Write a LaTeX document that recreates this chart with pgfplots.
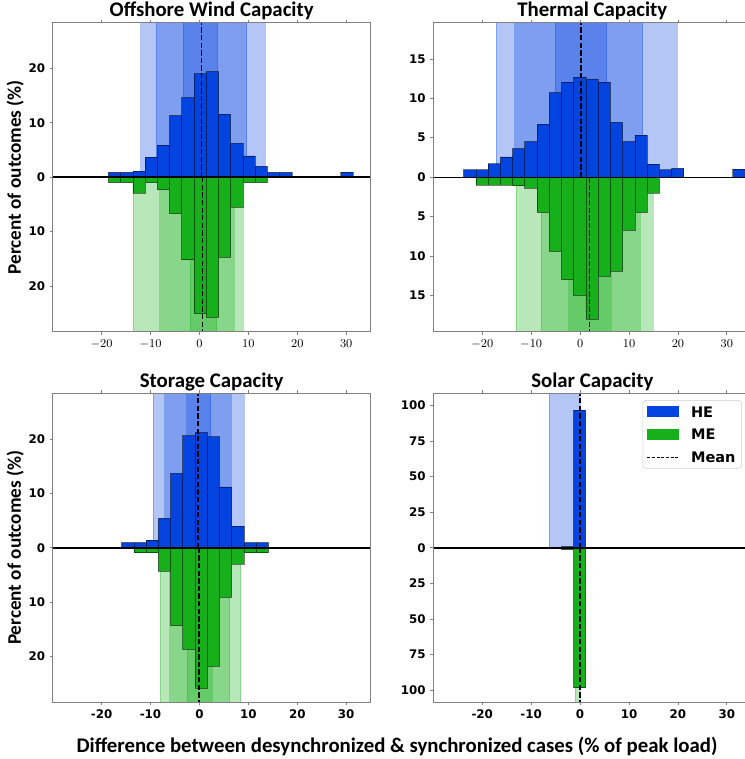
\documentclass[border=0pt]{standalone}
\usepackage{pgfplots}
\pgfplotsset{compat=1.18}
\usepackage{fontspec}
\setmainfont{Carlito}
\newfontfamily\dejavu{DejaVu Sans}
\definecolor{heblue}{HTML}{0343DF}
\definecolor{megreen}{HTML}{15B01A}
\definecolor{axgray}{HTML}{808080}
\definecolor{leggray}{HTML}{CCCCCC}
\newcommand\tickfont{\dejavu\bfseries\fontsize{8.9}{10}\selectfont}
\newcommand\titlefont{\bfseries\fontsize{15.6}{18}\selectfont}
\newcommand\xlabfont{\bfseries\fontsize{15.6}{18}\selectfont}
\newcommand\ylabfont{\bfseries\fontsize{14.4}{17}\selectfont}
\newcommand\legfont{\dejavu\bfseries\fontsize{10.9}{13}\selectfont}
\pgfplotsset{
  panel/.style={
    scale only axis, width=238.5pt, height=231.75pt,
    xmin=-30, xmax=35,
    axis on top,
    axis line style={draw=axgray, line width=0.6pt},
    tick style={draw=axgray, line width=0.6pt},
    tick align=outside, major tick length=2.2pt,
    xtick={-20,-10,0,10,20,30},
    ytick pos=left,
    ticklabel style={font=\tickfont, text=black},
    title style={font=\titlefont, anchor=base, at={(0.5,1)}, yshift=-1.5pt},
    ylabel style={font=\ylabfont, at={(axis description cs:-0.118,0.50)}, anchor=center},
    anchor=north west,
  },
  hebar/.style={ybar interval, fill=heblue, draw=black, draw opacity=0.5, line width=0.55pt, forget plot},
  mebar/.style={ybar interval, fill=megreen, draw=black, draw opacity=0.5, line width=0.55pt, forget plot},
  heband/.style={ybar interval, fill=heblue, fill opacity=0.3, draw=heblue, draw opacity=0.3, line width=0.6pt, forget plot},
  meband/.style={ybar interval, fill=megreen, fill opacity=0.3, draw=megreen, draw opacity=0.3, line width=0.6pt, forget plot},
  zeroline/.style={black, line width=1.0pt, forget plot},
  meanline/.style={black, line width=1.1pt, dash pattern=on 4pt off 1.7pt, forget plot},
}
\begin{document}
\begin{tikzpicture}
\useasboundingbox (0,0) rectangle (558pt,-569.25pt);
% ---------------- Offshore Wind
\begin{axis}[panel, at={(39.5pt,-17pt)}, ymin=-28.4, ymax=28.4,
  ytick={-20,-10,0,10,20}, yticklabels={20,10,0,10,20}, xticklabel={},
  title={Offshore Wind Capacity}, ylabel={Percent of outcomes (\%)}]
\addplot[heband] coordinates {(-12.0,30) (13.4,30)};
\addplot[heband] coordinates {(-8.8,30) (9.7,30)};
\addplot[heband] coordinates {(-3.3,30) (3.7,30)};
\addplot[meband] coordinates {(-13.5,-30) (9.0,-30)};
\addplot[meband] coordinates {(-8.1,-30) (7.1,-30)};
\addplot[meband] coordinates {(-1.9,-30) (3.5,-30)};
\addplot[hebar] coordinates {(-18.6,0.9) (-16.1,0.9) (-13.6,1.1) (-11.1,3.7) (-8.6,5.9) (-6.1,11.3) (-3.6,14.6) (-1.1,19.0) (1.4,19.4) (3.9,11.6) (6.4,6.2) (8.9,3.9) (11.4,2.0) (13.9,0.9) (16.4,0.9) (18.9,0.9)};
\addplot[hebar] coordinates {(28.9,0.9) (31.4,0.9)};
\addplot[mebar] coordinates {(-18.6,-1.0) (-16.1,-1.0) (-13.6,-2.9) (-11.1,-1.0) (-8.6,-2.3) (-6.1,-6.7) (-3.6,-15.2) (-1.1,-25.1) (1.4,-25.7) (3.9,-14.7) (6.4,-5.5) (8.9,-1.0) (11.4,-1.0) (13.9,-1.0)};
\addplot[zeroline] coordinates {(-30,0) (35,0)};
\addplot[meanline] coordinates {(0.4,0) (0.4,30)};
\addplot[meanline] coordinates {(0.6,0) (0.6,-30)};
\end{axis}
% ---------------- Thermal
\begin{axis}[panel, at={(325pt,-17pt)}, ymin=-19.6, ymax=19.6,
  ytick={-15,-10,-5,0,5,10,15}, yticklabels={15,10,5,0,5,10,15}, xticklabel={},
  title={Thermal Capacity}]
\addplot[heband] coordinates {(-17.2,21) (19.8,21)};
\addplot[heband] coordinates {(-13.4,21) (12.8,21)};
\addplot[heband] coordinates {(-5.1,21) (5.4,21)};
\addplot[meband] coordinates {(-13.1,-21) (14.9,-21)};
\addplot[meband] coordinates {(-7.9,-21) (12.3,-21)};
\addplot[meband] coordinates {(-2.3,-21) (6.3,-21)};
\addplot[hebar] coordinates {(-23.8,0.94) (-21.3,0.94) (-18.8,1.7) (-16.3,2.56) (-13.8,3.62) (-11.3,4.52) (-8.8,6.73) (-6.3,10.74) (-3.8,12.06) (-1.3,12.7) (1.2,12.4) (3.7,12.06) (6.2,6.95) (8.7,4.52) (11.2,5.33) (13.7,1.66) (16.2,0.94) (18.7,1.1) (21.2,1.1)};
\addplot[hebar] coordinates {(31.2,0.98) (33.7,0.98)};
\addplot[mebar] coordinates {(-21.3,-0.98) (-18.8,-0.98) (-16.3,-0.98) (-13.8,-1.1) (-11.3,-1.36) (-8.8,-4.47) (-6.3,-9.42) (-3.8,-13.0) (-1.3,-14.96) (1.2,-17.98) (3.7,-12.53) (6.2,-11.93) (8.7,-6.73) (11.2,-4.47) (13.7,-2.0) (16.2,-2.0)};
\addplot[zeroline] coordinates {(-30,0) (35,0)};
\addplot[meanline] coordinates {(0.2,0) (0.2,21)};
\addplot[meanline] coordinates {(1.9,0) (1.9,-21)};
\end{axis}
% ---------------- Storage
\begin{axis}[panel, at={(39.5pt,-295pt)}, ymin=-28.4, ymax=28.4,
  ytick={-20,-10,0,10,20}, yticklabels={20,10,0,10,20},
  xticklabels={-20,-10,0,10,20,30},
  title={Storage Capacity}, ylabel={Percent of outcomes (\%)}]
\addplot[heband] coordinates {(-9.4,30) (9.1,30)};
\addplot[heband] coordinates {(-7.1,30) (6.5,30)};
\addplot[heband] coordinates {(-2.6,30) (2.3,30)};
\addplot[meband] coordinates {(-8.0,-30) (8.4,-30)};
\addplot[meband] coordinates {(-6.1,-30) (6.2,-30)};
\addplot[meband] coordinates {(-2.45,-30) (2.6,-30)};
\addplot[hebar] coordinates {(-15.9,0.98) (-13.4,0.98) (-10.9,1.4) (-8.4,5.4) (-5.9,13.7) (-3.4,20.6) (-0.9,21.2) (1.6,20.4) (4.1,11.2) (6.6,4.0) (9.1,0.98) (11.6,0.98) (14.1,0.98)};
\addplot[mebar] coordinates {(-13.4,-0.92) (-10.9,-0.92) (-8.4,-4.3) (-5.9,-14.3) (-3.4,-18.6) (-0.9,-25.8) (1.6,-21.7) (4.1,-9.05) (6.6,-2.95) (9.1,-0.92) (11.6,-0.92) (14.1,-0.92)};
\addplot[zeroline] coordinates {(-30,0) (35,0)};
\addplot[meanline] coordinates {(-0.27,0) (-0.27,30)};
\addplot[meanline] coordinates {(-0.07,0) (-0.07,-30)};
\end{axis}
% ---------------- Solar
\begin{axis}[panel, at={(325pt,-295pt)}, ymin=-108.5, ymax=108.5,
  ytick={-100,-75,-50,-25,0,25,50,75,100}, yticklabels={100,75,50,25,0,25,50,75,100},
  xticklabels={-20,-10,0,10,20,30},
  title={Solar Capacity},
  legend cell align=left,
  legend style={at={(0.970,0.978)}, anchor=north east, font=\legfont, draw=leggray,
    rounded corners=2.5pt, fill=white, inner xsep=3pt, inner ysep=3pt, row sep=6pt,
    nodes={inner sep=1.5pt, text height=8pt, text depth=0pt},
    /tikz/every odd column/.append style={column sep=8pt}}]
\addplot[heband] coordinates {(-6.3,115) (0,115)};
\addplot[meband] coordinates {(-1.0,-115) (0,-115)};
\addplot[hebar] coordinates {(-11.35,0.4) (-8.85,0.4) (-6.35,0.4) (-3.85,0.8) (-1.35,96.7) (1.15,96.7)};
\addplot[mebar] coordinates {(-3.85,-1.2) (-1.35,-98.3) (1.15,-98.3)};
\addplot[zeroline] coordinates {(-30,0) (35,0)};
\addplot[meanline] coordinates {(0,0) (0,115)};
\addplot[meanline] coordinates {(0,0) (0,-115)};
\addlegendimage{legend image code/.code={\fill[heblue, sharp corners] (0pt,-3.75pt) rectangle (23pt,3.75pt);}}
\addlegendentry{HE}
\addlegendimage{legend image code/.code={\fill[megreen, sharp corners] (0pt,-3.75pt) rectangle (23pt,3.75pt);}}
\addlegendentry{ME}
\addlegendimage{legend image code/.code={\draw[black, sharp corners, line width=0.6pt, dash pattern=on 2.2pt off 1.3pt] (0pt,0pt) -- (23pt,0pt);}}
\addlegendentry{Mean}
\end{axis}
\node[font=\xlabfont, anchor=base] at (297.75pt,-564pt) {Difference between desynchronized \& synchronized cases (\% of peak load)};
\end{tikzpicture}
\end{document}
